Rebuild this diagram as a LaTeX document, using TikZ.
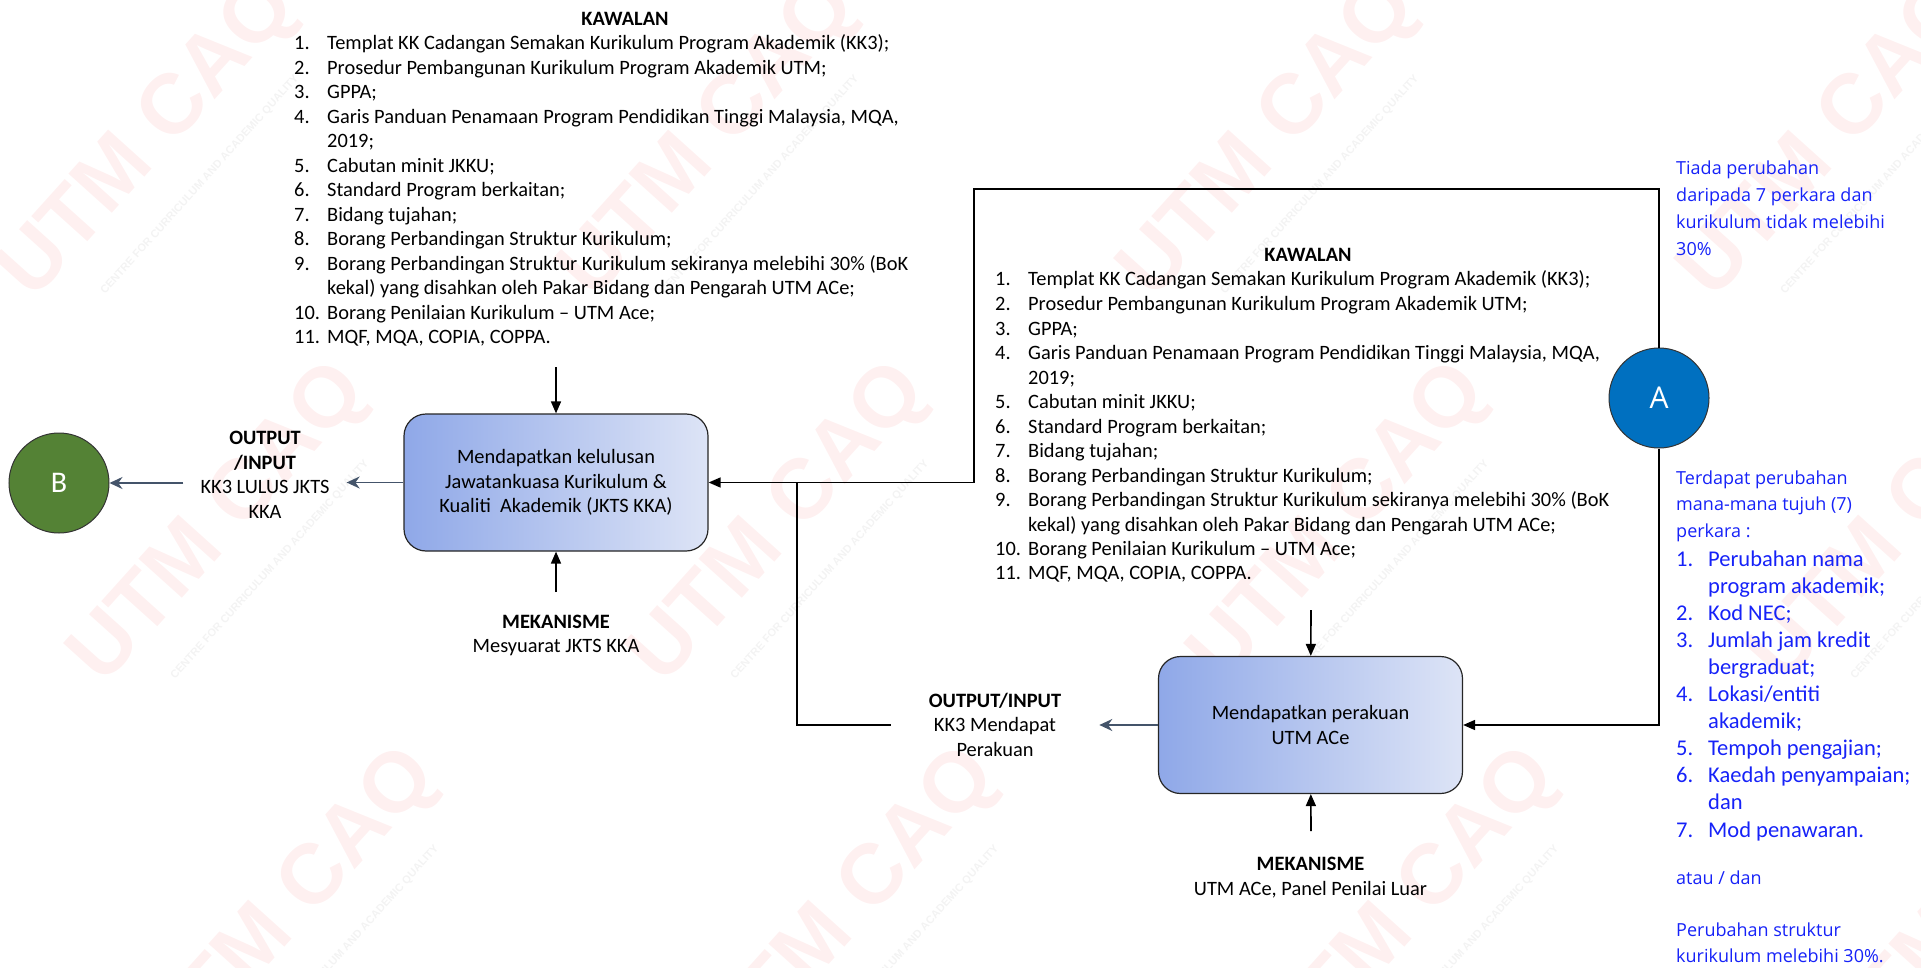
\documentclass[tikz,border=0pt]{standalone}
\usepackage{fontspec}
\usepackage{xcolor}
\usepackage{tikz}
\usetikzlibrary{positioning,arrows.meta}

\setmainfont{Carlito}
\newfontfamily\segoe{Open Sans}
\newfontfamily\wmfont{Liberation Sans}

\definecolor{boxL}{RGB}{143,168,232}
\definecolor{boxR}{RGB}{221,228,246}
\definecolor{outc}{RGB}{68,84,106}
\definecolor{ublue}{RGB}{22,34,248}
\definecolor{cA}{RGB}{0,112,192}
\definecolor{cB}{RGB}{84,130,53}
\definecolor{wmpink}{RGB}{254,240,240}
\definecolor{wmgrey}{RGB}{243,243,243}

% senarai kawalan (dipakai dua kali)
\newcommand{\kawalanlist}{%
\begin{tabular}[t]{@{}p{33pt}@{}l@{}}
1. & Templat KK Cadangan Semakan Kurikulum Program Akademik (KK3);\\
2. & Prosedur Pembangunan Kurikulum Program Akademik UTM;\\
3. & GPPA;\\
4. & Garis Panduan Penamaan Program Pendidikan Tinggi Malaysia, MQA,\\
   & 2019;\\
5. & Cabutan minit JKKU;\\
6. & Standard Program berkaitan;\\
7. & Bidang tujahan;\\
8. & Borang Perbandingan Struktur Kurikulum;\\
9. & Borang Perbandingan Struktur Kurikulum sekiranya melebihi 30\% (BoK\\
   & kekal) yang disahkan oleh Pakar Bidang dan Pengarah UTM ACe;\\
10. & Borang Penilaian Kurikulum – UTM Ace;\\
11. & MQF, MQA, COPIA, COPPA.
\end{tabular}}

% tujuh perkara
\newcommand{\perkaralist}{%
\begin{tabular}[t]{@{}p{32pt}@{}l@{}}
1. & Perubahan nama\\
   & program akademik;\\
2. & Kod NEC;\\
3. & Jumlah jam kredit\\
   & bergraduat;\\
4. & Lokasi/entiti\\
   & akademik;\\
5. & Tempoh pengajian;\\
6. & Kaedah penyampaian;\\
   & dan\\
7. & Mod penawaran.
\end{tabular}}

\begin{document}
\begin{tikzpicture}[x=1pt, y=-1pt, node distance = 40pt,
    txt/.style={font=\fontsize{20.4}{24.5}\selectfont},
    lbl/.style={txt, align=center, inner sep=0pt},
    box/.style={txt, draw=black!85, line width=1.2pt, rounded corners=22pt,
        left color=boxL, right color=boxR, align=center,
        minimum width=304pt, minimum height=137pt},
    blue/.style={font=\segoe\fontsize{18}{26.7}\selectfont, text=ublue, inner sep=0pt, anchor=base west},
    arr/.style={-{Triangle[length=12pt,width=10pt]}, line width=1.6pt},
    outarr/.style={-{Stealth[length=13pt,width=12pt]}, draw=outc, line width=1.8pt},
    wm/.style={font=\wmfont\bfseries\fontsize{85}{85}\selectfont, text=wmpink, rotate=48},
    wmsub/.style={font=\wmfont\bfseries\fontsize{11}{11}\selectfont, text=wmgrey, rotate=48}]

    \path[use as bounding box] (0,0) rectangle (1921,968);

    % tera air
    \begin{scope}
        \clip (0,0) rectangle (1921,968);
        \foreach \i in {0,...,3}
            \foreach \j in {0,...,2} {
                \node[wm] (wm-\i-\j) at (150+560*\i+70*\j, 140+385*\j) {UTM CAQ};
                \node[wmsub] (ws-\i-\j) at (200+560*\i+70*\j, 185+385*\j) {CENTRE FOR CURRICULUM AND ACADEMIC QUALITY};
            }
    \end{scope}

    % kawalan
    \node (K1) [txt, font=\bfseries\fontsize{20.4}{24.5}\selectfont] at (625,19) {KAWALAN};
    \node (L1) [txt, anchor=base west, inner sep=0pt] at (294,50) {\kawalanlist};
    \node (K2) [txt, font=\bfseries\fontsize{20.4}{24.5}\selectfont] at (1308,255) {KAWALAN};
    \node (L2) [txt, anchor=base west, inner sep=0pt] at (995,286) {\kawalanlist};

    % proses
    \node (P1) [box] at (556,482.5) {Mendapatkan kelulusan\\Jawatankuasa Kurikulum \&\\Kualiti~ Akademik (JKTS KKA)};
    \node (P2) [box] at (1310.5,725) {Mendapatkan perakuan\\UTM ACe};

    \node (B) [circle, draw=black!80, line width=1pt, fill=cB, minimum size=100pt, inner sep=0pt,
        text=white, font=\fontsize{30}{30}\selectfont] at (59,483) {B};
    \node (A) [circle, draw=black!80, line width=1pt, fill=cA, minimum size=100pt, inner sep=0pt,
        text=white, font=\segoe\fontsize{30}{30}\selectfont] at (1659,398) {A};

    \node (O1) [lbl, inner xsep=17pt] at (265,475) {\textbf{OUTPUT}\\\textbf{/INPUT}\\KK3 LULUS JKTS\\KKA};
    \node (O2) [lbl, inner xsep=38pt] at (995,724.5) {\textbf{OUTPUT/INPUT}\\KK3 Mendapat\\Perakuan};
    \node (M1) [lbl, below = 63pt of P1] {\textbf{MEKANISME}\\Mesyuarat JKTS KKA};
    \node (M2) [lbl, below = 63pt of P2] {\textbf{MEKANISME}\\UTM ACe, Panel Penilai Luar};

    % nota biru
    \node (T1) [blue] at (1676,175) {\begin{tabular}[t]{@{}l@{}}Tiada perubahan\\daripada 7 perkara dan\\kurikulum tidak melebihi\\30\%\end{tabular}};
    \node (T2) [blue] at (1676,484) {\begin{tabular}[t]{@{}l@{}}Terdapat perubahan\\mana-mana tujuh (7)\\perkara :\end{tabular}};
    \node (L3) [blue, font=\fontsize{22.5}{27.1}\selectfont] at (1676,566) {\perkaralist};
    \node (T3) [blue] at (1676,884) {atau / dan};
    \node (T4) [blue] at (1676,936) {\begin{tabular}[t]{@{}l@{}}Perubahan struktur\\kurikulum melebihi 30\%.\end{tabular}};

    \coordinate (k1) at (556,367);
    \coordinate (m1) at (556,592);
    \coordinate (k2) at (1311,610);
    \coordinate (m2) at (1311,831);
    \coordinate (j1) at (974,189);
    \coordinate (jn) at (797,482.5);

    \draw[arr] (k1) -- (P1);
    \draw[arr] (m1) -- (P1);
    \draw[arr] (k2) -- (P2);
    \draw[arr] (m2) -- (P2);
    \draw[arr] (A) |- (j1) |- (P1);
    \draw[arr] (A) |- (P2);
    \draw[line width=1.6pt] (O2.west |- P2) -| (jn);
    \draw[outarr] (P1) -- (O1.east |- P1);
    \draw[outarr] (O1.west |- B) -- (B);
    \draw[outarr] (P2) -- (O2.east |- P2);
\end{tikzpicture}
\end{document}
